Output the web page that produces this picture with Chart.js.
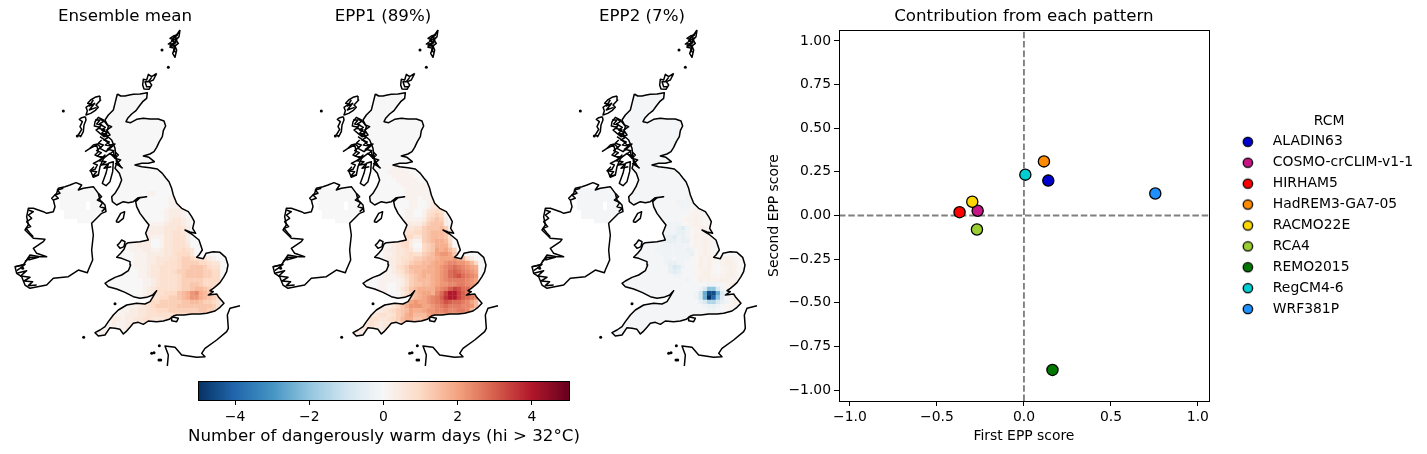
<!DOCTYPE html>
<html><head><meta charset="utf-8">
<script src="https://cdn.jsdelivr.net/npm/chart.js@4/dist/chart.umd.min.js"></script>
<style>html,body{margin:0;padding:0;background:#fff;width:1427px;height:454px;overflow:hidden}canvas{position:absolute}</style>
</head><body>
<canvas id="m1" style="left:0;top:0" width="250" height="370"></canvas>
<canvas id="m2" style="left:258px;top:0" width="250" height="370"></canvas>
<canvas id="m3" style="left:517px;top:0" width="250" height="370"></canvas>
<canvas id="cb" style="left:144px;top:375px" width="480" height="79"></canvas>
<canvas id="sc" style="left:760px;top:0" width="667" height="454"></canvas>
<script>
// ---- scatter data ----
const rcmNames=["ALADIN63","COSMO-crCLIM-v1-1","HIRHAM5","HadREM3-GA7-05","RACMO22E","RCA4","REMO2015","RegCM4-6","WRF381P"];
const firstScore=[0.14,-0.266,-0.37,0.115,-0.297,-0.27,0.164,0.008,0.755];
const secondScore=[0.20,0.027,0.019,0.31,0.079,-0.08,-0.885,0.234,0.126];
const rcmColors=["#0000cd","#c71585","#ff0000","#ff8c00","#ffd700","#9acd32","#007800","#00ced1","#1e90ff"];
const xTickValues=[-1,-0.5,0,0.5,1];
const yTickValues=[-1,-0.75,-0.5,-0.25,0,0.25,0.5,0.75,1];
const cbTickValues=[-4,-2,0,2,4];
const panelTitles=["Ensemble mean","EPP1 (89%)","EPP2 (7%)"];
// ---- field levels: each character in the rows is one grid cell ----
const levelCodes="0123456789abcdefghijklpqABCDEFGHIJKLMN";
const levelValues=[0,.2,.4,.6,.8,1,1.2,1.4,1.6,1.8,2,2.2,2.4,2.6,2.8,3,3.2,3.4,3.6,3.8,4,4.2,.1,.3,-.1,-.2,-.4,-.6,-.8,-1,-1.5,-2,-2.5,-3,-3.5,-4,-4.5,-5];
const northLevel=["0","0","A"];
const niRow=["00000000000","00000000000","00000000000","000000.0000","000000.0000",".0000000000",".0000000000","....0000..."];
const ensembleRows=[
"0000000000000000000000000000","0000000000000000000000000000","0000000000000000000000000000","0000000000000000000000000000",
"0000000000000000000000000000","0000000000000000000000000000","0000000001100000000000000000","0000000000000011000000000000",
"0000000000000011100000000000","0000000000000011100000000000","0000000000000122210000000000","0000000000000122210000000000",
"0000000000000123321000000000","0000000011111233321000000000","0000000011222333432000000000","0000000112222334432000000000",
"0000000122111334442000000000","0000001222001334442000000000","0000011222001334443000000000","0000011122112334454300000000",
"0000001112222334555300000000","0000001112233344566544321000","0000001112233444566665543300","0000001112334444566777654400",
"0000000112334445667777665500","0000000112334444567777665500","0000000011234444566666555500","0000000011234444566776555400",
"0000000012344444566788765500","0000000012344555789bc9876500","0000000123445566789bb9876500","0000000234556666677887665400",
"0000111234566666777777776400","0001122334455566666667766000","0111222334444445555554430000","1221223344333444444440000000",
"1211222333222000000000000000","1111200000000000000000000000","1100000000000000000000000000"];
const epp1Rows=[
"0000001110000000000000000000","0000011111000000000000000000","0000001111100000000000000000","0000000111110000000000000000",
"0000000011111100000000000000","0000000001111110000000000000","0000000001111111000000000000","0000000001110112100000000000",
"0000000000110012210000000000","0000000000110013320000000000","0000000001100134540000000000","0000000001100145651000000000",
"0000000001111256762000000000","0000000012222467772100000000","0000000023344677786200000000","0000000034455678887300000000",
"0000000345533678887400000000","0000001455211678998500000000","0000012345200567999600000000","0000122334311567a9a860000000",
"0000112334544678abba71000000","00001223445667889aaab9842000","0000122345677889aabccbba8500","0000112456888899abcdedcba900",
"0000112346788999abcefedcba00","0000111235678989abcefgedcb00","0001111124678889abcddddcba00","0001100124677889abbccddcba00",
"0001100135789999bcdfhgeeca00","0000100024689aa9cehkkhfdcb00","0000000136789abcdfikkhfedb00","0000000458abaabcdegfeedca800",
"0011223579bbbaabcdedddccb800","0122345678a99abbccdccddc8000","2334434679a888abbbbb99800000","3443345689977889a99980000000",
"3432333479866788000000000000","3322345000000000000000000000","2211000000000000000000000000"];
const epp2Rows=[
"AAAAAAAAAAAAAAAAAAAAAAAAAAAA","AAAAAAAAAAAAAAAAAAAAAAAAAAAA","AAAAAAAAAAAAAAAAAAAAAAAAAAAA","AAAAAAAAAAAAAAAAAAAAAAAAAAAA",
"AAAAAAAAAAAAAAAAAAAAAAAAAAAA","AAAAAAAAAAAAAAAAAAAAAAAAAAAA","AAAAAAAAAAAAAAAAAAAAAAAAAAAA","AAAAAAAAAAAAAABAAAAAAAAAAAAA",
"AAAAAAAAAAAABBBBAAAAAAAAAAAA","AAAAAAAAAAAAABBpAAAAAAAAAAAA","AAAAAAAAAAAAAAAp11AAAAAAAAAA","AAAAAAAAAAAAAAp111pAAAAAAAAA",
"AAAAAAAAAAAAAp11q1pAAAAAAAAA","AAAAAAAAAABBBAp1q1ppAAAAAAAA","AAAAAAAAAABBCDBp1q1pAAAAAAAA","AAAAAAAAABBBCCBp11q1AAAAAAAA",
"AAAAAAAAACCDBCBpq111AAAAAAAA","AAAAAAAABCCCBCCp11q1AAAAAAAA","AAAAAAAABBBBBBBp11q1pAAAAAAA","AAAAAAABBBBBBBCBp1q1pAAAAAAA",
"AAAAAAAABBBBBBBCp1q1p0000000","AAAAAAAAABBABBBApq1q1p1q1p00","AAAAAAAAABCCBBAApq1qpp1qq100","AAAAAAAAAACEDBAApq1qp0p1q100",
"AAAAAAAAAACDCAAAp1qqp0p1q100","AAAAAAAAAAABBAAAp1qq1p1qq100","AAAAAAAAAAAAAABApq1q11qq1100","AAAAAAAAAAAAAAAAAAABBAA1q1q1",
"AAAAAAAAAAAAAAAAABEHHEBp1q11","AAAAAAAAAAAAAAAABEIMMIEBp111","AAAAAAAAAAAAAAAABEINLHDAp111","AAAAAAAAAAAAAAAAACEGGECBpq1q",
"AAAAAAAAAAAAAAAAAABCCBApp11q","AAAAAAAAAAAAAAAAAAABBAApp1q1","AAAAAAAAAAAAAAAAApp11pp10000","AAAAAAAAAAAAApp1pp1000000000",
"AAAAAAAAAAAAA000000000000000","AAAAAAAAAAAAAAAAAAAAAAAAAAAA","AAAAAAAAAAAAAAAAAAAAAAAAAAAA"];
const westRows=[
["0000","0000","0000","0000","0000","0000","0000","0001","0011","0111","1111","1111","1111","1111"],
["0000","0000","0000","0000","0000","0000","0001","0011","1122","1223","2233","2333","2222","2222"],
["AAAA","AAAA","AAAA","AAAA","AAAA","AAAA","AAAA","AAAA","AAAA","AAAA","AAAA","AAAA","AAAA","AAAA"]];
// ---- coastline, in map units ----
const coastGB=[352,222,362,228,375,228,388,225,400,223,420,222,442,218,440,235,428,245,418,258,408,272,395,282,383,295,378,305,392,308,410,298,430,295,450,297,475,297,492,303,497,318,490,332,487,350,478,365,470,382,462,395,450,402,430,408,447,412,463,425,445,430,425,430,405,435,425,440,450,443,472,447,487,460,497,473,507,485,515,505,520,525,530,550,545,565,565,575,575,590,583,605,578,625,587,640,570,636,555,630,575,642,597,660,607,690,597,705,590,712,610,716,618,700,640,695,660,697,677,712,684,735,680,755,672,770,660,788,650,797,640,805,630,812,640,815,625,825,650,822,655,830,672,850,660,862,645,873,620,880,600,882,575,882,552,885,530,885,520,888,508,898,490,903,470,905,445,903,430,913,415,907,400,910,390,922,378,935,370,942,360,928,345,925,330,923,315,945,295,948,285,938,300,930,315,920,325,905,340,885,355,870,380,855,410,850,435,852,450,845,458,832,470,812,458,825,440,832,420,835,400,830,375,817,350,807,325,800,315,790,325,783,345,772,365,765,385,752,392,735,390,725,365,715,350,712,362,700,372,688,378,672,385,668,420,665,445,660,437,640,447,615,435,600,420,580,410,560,407,545,420,533,440,530,415,533,400,545,385,548,370,545,350,555,337,545,335,530,345,520,357,500,365,480,358,460,345,445,350,430,345,385,335,360,318,345,325,320,315,300,325,285,340,270,345,250,352,222];
const coastIreland=[160,540,155,535,170,520,175,505,195,500,210,495,228,488,245,495,235,510,250,505,280,500,295,520,300,540,315,555,318,575,305,580,275,610,280,645,275,690,278,720,265,750,262,758,235,750,205,770,160,775,140,795,105,802,90,805,75,795,65,770,50,760,45,740,70,735,80,720,90,705,120,710,140,710,110,700,100,685,130,665,135,658,100,655,85,640,75,630,85,615,80,590,85,565,100,565,130,575,140,580,160,575,165,560,160,540];
const coastFrance=[720,857,690,865,682,885,685,925,680,935,650,960,615,985,605,1000,615,1010,590,1012,545,1005,525,982,495,978,505,1005,502,1038];
const coastOther=[
[358,670,365,660,375,665,372,680,360,685,352,675,358,670],
[515,890,535,895,530,905,515,902,515,890],
[348,605,362,580,374,575,370,595,355,607,348,605],
[285,305,295,292,310,300,322,315,335,320,320,330,330,345,312,350,300,340,288,330,300,322,283,318,285,305],
[285,300,300,300,290,312,305,315,295,325,315,330,305,340,322,345],
[300,295,310,305,298,312,316,322,305,330,322,338,308,345,325,352,312,360,328,366,316,375,335,378,322,388,342,392,330,402,350,408],
[300,350,315,360,330,375,345,372,330,385,318,395,300,385,310,375,295,370,305,360],
[255,395,270,385,290,375,295,395,285,405,310,415,330,400,345,415,340,395],
[270,385,280,375,292,372,302,382,290,392,304,398,292,408,312,412,298,422,318,425,304,435,325,432,312,445,334,440],
[282,440,270,452,290,455,278,468,296,465],
[345,395,355,405,345,415,362,420,350,430,368,445],
[272,452,285,448,292,435,280,430,300,420,315,405,300,440,295,465,280,472,272,452],
[325,430,340,425,338,455,330,485,318,497,307,490,318,460,325,430],
[350,420,362,440,345,430],
[300,228,285,232,272,240,263,250,272,252,258,262,262,272,258,285,272,280,285,272,295,262,288,255,302,240,300,228],
[280,240,268,258,284,250,268,270,290,262],
[256,290,245,293,238,298,247,305,240,320,245,328,235,345,242,350,250,335,252,315,258,300,256,290],
[540,30,530,45,520,48,510,55,522,60,505,72,520,72,510,82,525,85,518,100,525,112,530,90,525,78,535,70,528,60,537,50,540,30],
[535,40,518,55,530,62,512,75,525,80,520,95],
[533,45,522,52,532,55,515,62,528,68,510,78,527,76,522,90,527,98],
[470,160,455,170,445,163,440,180,430,178,428,195,432,207,447,208,455,195,448,185,460,180,470,160],
[455,172,445,185,435,185,440,200,450,200],
[50,760,80,752,62,768,90,772,72,783,98,785,85,797,110,795],
[45,740,75,733,60,745,50,752],
[85,720,115,712,90,712,75,725],
[85,570,100,575,85,585,95,595,80,605,92,620,78,625,90,640,100,650],
[160,540,175,535,165,525,180,520,172,510,190,505],
[295,520,305,530,292,540,308,548,300,560,316,565,305,575]];
const islandDots=[486,90,505,142,190,273,345,851,251,952,478,977,455,1000,462,998,482,1020,477,1020,232,348,68,745];

// ---- colour map ----
const rdbu=[[5,48,97],[33,102,172],[67,147,195],[146,197,222],[209,229,240],[247,247,247],[253,219,199],[244,165,130],[214,96,77],[178,24,43],[103,0,31]];
function colorFor(v){const t=Math.max(0,Math.min(9.9999,v+5));const i=Math.floor(t),f=t-i;const a=rdbu[i],b=rdbu[i+1];
 return `rgb(${a.map((c,k)=>Math.round(c+(b[k]-c)*f)).join(",")})`;}
const valueOf=ch=>levelValues[levelCodes.indexOf(ch)];
const toXY=a=>{const o=[];for(let i=0;i<a.length;i+=2)o.push({x:a[i],y:a[i+1]});return o;};

Chart.defaults.font.family="'DejaVu Sans'";
Chart.defaults.font.size=13.9;
Chart.defaults.color="#000";
Chart.defaults.animation=false;
Chart.defaults.devicePixelRatio=1;
Chart.defaults.responsive=false;
Chart.defaults.layout.autoPadding=false;

const clipPlugin={id:"landClip",
 beforeDatasetDraw(c,args){const d=c.data.datasets[args.index];if(!d.isField)return;const {x,y}=c.scales;const ctx=c.ctx;ctx.save();ctx.beginPath();
  [coastGB,coastIreland].forEach(p=>{for(let i=0;i<p.length;i+=2){const X=x.getPixelForValue(p[i]),Y=y.getPixelForValue(p[i+1]);i?ctx.lineTo(X,Y):ctx.moveTo(X,Y);}ctx.closePath();});ctx.clip();},
 afterDatasetDraw(c,args){if(c.data.datasets[args.index].isField)c.ctx.restore();}};
const framePlugin={id:"frame",afterDatasetsDraw(c){const a=c.chartArea,ctx=c.ctx;ctx.save();ctx.strokeStyle="#000";ctx.lineWidth=1;ctx.strokeRect(Math.round(a.left)+.5,Math.round(a.top)+.5,Math.round(a.width),Math.round(a.height));ctx.restore();}};
const legendShift={id:"legendShift",afterLayout(c){c.legend.bottom-=17;c.legend.height-=17;}};

function mapChart(id,title,rows,west,north){
 const cells=[],cols=[];
 const add=(x,y,ch)=>{if(ch==="."||ch===" ")return;cells.push({x,y});cols.push(colorFor(valueOf(ch)));};
 for(let y=222;y<=430;y+=13)for(let i=0;i<16;i++)add(330+13*i,y,north);
 niRow.forEach((r,j)=>[...r].forEach((ch,i)=>add(186+13*i,512+13*j,ch==="."?".":north)));
 rows.forEach((r,j)=>[...r].forEach((ch,i)=>add(330+13*i,443+13*j,ch)));
 west.forEach((r,j)=>[...r].forEach((ch,i)=>add(278+13*i,781+13*j,ch)));
 const line=a=>({data:toXY(a),showLine:true,pointRadius:0,borderColor:"#000",backgroundColor:"#000",borderWidth:1.5,fill:false,tension:0,order:1,borderJoinStyle:"round"});
 const ds=[
  {data:cells,isField:true,pointStyle:"rect",pointRadius:3.3,pointBorderWidth:0,pointBackgroundColor:cols,showLine:false,order:5},
  line(coastGB),line(coastIreland),line(coastFrance),...coastOther.map(line),
  {data:toXY(islandDots),showLine:false,pointRadius:1.5,pointBorderWidth:0,pointBackgroundColor:"#000",order:0}];
 new Chart(document.getElementById(id),{type:"scatter",data:{datasets:ds},plugins:[clipPlugin],options:{
  layout:{padding:0},
  plugins:{legend:{display:false},tooltip:{enabled:false},title:{display:true,text:title,fullSize:false,font:{size:16.67,weight:"normal"},padding:{top:7,bottom:1}}},
  scales:{x:{type:"linear",display:false,min:0,max:750},y:{type:"linear",display:false,reverse:true,min:24,max:1050}}}});
}
mapChart("m1",panelTitles[0],ensembleRows,westRows[0],northLevel[0]);
mapChart("m2",panelTitles[1],epp1Rows,westRows[1],northLevel[1]);
mapChart("m3",panelTitles[2],epp2Rows,westRows[2],northLevel[2]);

// ---- colour bar ----
const cbX=[],cbCols=[];for(let v=-4.975;v<5;v+=.05){cbX.push(v);cbCols.push(colorFor(v));}
const blankAxis=(position,w)=>({position,display:true,min:0,max:1,afterFit:s=>{s.width=w;},ticks:{display:false},grid:{display:false},border:{display:false}});
new Chart(document.getElementById("cb"),{type:"bar",
 data:{datasets:[{data:cbX.map(v=>({x:v,y:1})),backgroundColor:cbCols,barThickness:2.5,borderWidth:0,grouped:false,yAxisID:"y"}]},
 plugins:[framePlugin],
 options:{layout:{padding:{left:0,right:0,top:6,bottom:0}},
  plugins:{legend:{display:false},tooltip:{enabled:false},
   title:{display:true,position:"bottom",text:"Number of dangerously warm days (hi > 32°C)",font:{size:16.67,weight:"normal"},padding:{top:0,bottom:7}}},
  scales:{
   x:{type:"linear",offset:false,min:-5,max:5,afterBuildTicks:s=>{s.ticks=cbTickValues.map(v=>({value:v}));},afterFit:s=>{s.height=27;},
    grid:{drawOnChartArea:false,tickLength:5,tickColor:"#000",offset:false},border:{color:"#000"},
    ticks:{padding:4,maxRotation:0,callback:v=>String(v).replace("-","\u2212")}},
   y:blankAxis("left",54),y2:blankAxis("right",55)}}});

// ---- scatter ----
const lim=1.063;
const refLine=(pts)=>({data:pts,showLine:true,pointRadius:0,borderColor:"#808080",borderWidth:1.9,borderDash:[6.5,2.8],fill:false,order:20,isRef:true});
const pointOrder=[3,1,4,2,5,6,7,8,9];
const scDs=rcmNames.map((n,i)=>({label:n,data:[{x:firstScore[i],y:secondScore[i]}],showLine:false,backgroundColor:rcmColors[i],borderColor:"#000",borderWidth:1.3,pointRadius:5.6,pointStyle:"circle",order:10-pointOrder[i]}));
scDs.push(refLine([{x:-lim,y:0},{x:lim,y:0}]),refLine([{x:0,y:-lim},{x:0,y:lim}]));
function legendMark(color){const k=document.createElement("canvas");k.width=50;k.height=14;const g=k.getContext("2d");g.beginPath();g.arc(32,7,4.7,0,Math.PI*2);g.fillStyle=color;g.fill();g.lineWidth=1.3;g.strokeStyle="#000";g.stroke();return k;}
new Chart(document.getElementById("sc"),{type:"scatter",data:{datasets:scDs},plugins:[framePlugin,legendShift],
 options:{layout:{padding:{left:0,right:4,top:0,bottom:0}},
  plugins:{tooltip:{enabled:false},
   title:{display:true,text:"Contribution from each pattern",fullSize:false,font:{size:16.67,weight:"normal"},padding:{top:7,bottom:3}},
   legend:{position:"right",align:"center",maxWidth:260,title:{display:true,text:"\u00a0\u00a0\u00a0\u00a0\u00a0\u00a0RCM",font:{size:13.9,lineHeight:1},padding:{top:0,bottom:0}},
    labels:{usePointStyle:true,pointStyleWidth:50,boxHeight:7.6,padding:7,font:{size:13.9},
     generateLabels:c=>Chart.defaults.plugins.legend.labels.generateLabels(c).map(l=>{if(l.datasetIndex<rcmColors.length)l.pointStyle=legendMark(rcmColors[l.datasetIndex]);return l;}),
     sort:(a,b)=>a.datasetIndex-b.datasetIndex,
     filter:(it,d)=>!d.datasets[it.datasetIndex].isRef}}},
  scales:{
   x:{type:"linear",min:-lim,max:lim,afterBuildTicks:s=>{s.ticks=xTickValues.map(v=>({value:v}));},afterFit:s=>{s.height=53;},
    grid:{drawOnChartArea:false,tickLength:5,tickColor:"#000"},border:{color:"#000"},
    ticks:{padding:3,maxRotation:0,callback:v=>v.toFixed(1).replace("-","\u2212")},
    title:{display:true,text:"First EPP score",font:{size:13.9},padding:{top:0,bottom:9}}},
   y:{type:"linear",min:-lim,max:lim,afterBuildTicks:s=>{s.ticks=yTickValues.map(v=>({value:v}));},afterFit:s=>{s.width=79;},
    grid:{drawOnChartArea:false,tickLength:5,tickColor:"#000"},border:{color:"#000"},
    ticks:{padding:3,callback:v=>v.toFixed(2).replace("-","\u2212")},
    title:{display:true,text:"Second EPP score",font:{size:13.9},padding:{top:6,bottom:0}}}}}});
</script>
</body></html>
